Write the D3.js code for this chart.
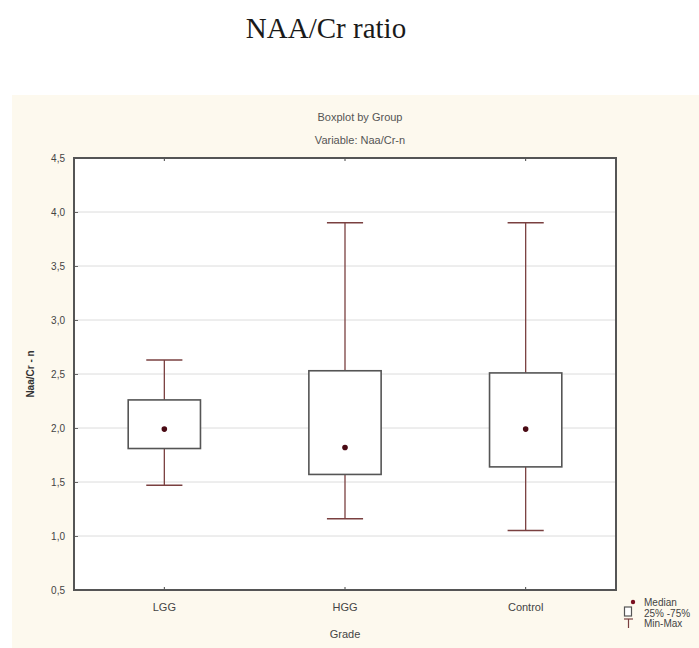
<!DOCTYPE html>
<html>
<head>
<meta charset="utf-8">
<script src="https://cdn.jsdelivr.net/npm/d3@7"></script>
<style>
  html, body { margin: 0; padding: 0; background: #ffffff; }
  svg { display: block; }
</style>
</head>
<body>
<script>
// ---- data ----
const groups = ["LGG", "HGG", "Control"];
const mins    = [1.47, 1.16, 1.05];
const q1s     = [1.81, 1.57, 1.64];
const medians = [1.99, 1.82, 1.99];
const q3s     = [2.26, 2.53, 2.51];
const maxs    = [2.63, 3.90, 3.90];
const yTicks  = [0.5, 1.0, 1.5, 2.0, 2.5, 3.0, 3.5, 4.0, 4.5];
const legendItems = ["Median", "25% -75%", "Min-Max"];

const W = 699, H = 648;
const svg = d3.select("body").append("svg").attr("width", W).attr("height", H);

// outer title
svg.append("text").attr("x", 326).attr("y", 38).attr("text-anchor", "middle")
  .style("font-family", "'Liberation Serif', 'Times New Roman', serif")
  .style("font-size", "29px").attr("fill", "#1a1a1a").text("NAA/Cr ratio");

// cream panel
svg.append("rect").attr("x", 12).attr("y", 95).attr("width", W - 12).attr("height", H - 95)
  .attr("fill", "#fdf9ee");

const plot = {left: 74, right: 616, top: 158, bottom: 590};
const x = d3.scaleBand().domain(groups).range([plot.left, plot.right]);
const y = d3.scaleLinear().domain([0.5, 4.5]).range([plot.bottom, plot.top]);

const narrow = "'Liberation Sans Narrow', 'Arial Narrow', 'Liberation Sans', sans-serif";

// subtitle
svg.append("text").attr("x", 360).attr("y", 121).attr("text-anchor", "middle")
  .style("font-family", narrow).style("font-size", "11px").attr("fill", "#555").text("Boxplot by Group");
svg.append("text").attr("x", 360).attr("y", 144).attr("text-anchor", "middle")
  .style("font-family", narrow).style("font-size", "11px").attr("fill", "#555").text("Variable: Naa/Cr-n");

// plot background
svg.append("rect").attr("x", plot.left).attr("y", plot.top)
  .attr("width", plot.right - plot.left).attr("height", plot.bottom - plot.top).attr("fill", "#ffffff");

// gridlines
svg.append("g").selectAll("line").data(yTicks.slice(1, -1)).join("line")
  .attr("x1", plot.left).attr("x2", plot.right)
  .attr("y1", d => y(d)).attr("y2", d => y(d))
  .attr("stroke", "#dcdcdc").attr("stroke-width", 1);

// y axis
const fmt = d => d.toFixed(1).replace(".", ",");
const yAxis = svg.append("g").attr("transform", `translate(${plot.left},0)`)
  .call(d3.axisLeft(y).tickValues(yTicks).tickFormat(fmt).tickSize(-4).tickPadding(9));
yAxis.select(".domain").remove();
yAxis.selectAll(".tick line").attr("stroke", "#666");
yAxis.selectAll("text").style("font-family", narrow).style("font-size", "10px").attr("fill", "#444");

// x axis (bottom) and top ticks
const xAxis = svg.append("g").attr("transform", `translate(0,${plot.bottom})`)
  .call(d3.axisBottom(x).tickSize(-3).tickPadding(13));
xAxis.select(".domain").remove();
xAxis.selectAll(".tick line").attr("stroke", "#444");
xAxis.selectAll("text").style("font-family", narrow).style("font-size", "11px").attr("fill", "#444");
const xTop = svg.append("g").attr("transform", `translate(0,${plot.top})`)
  .call(d3.axisTop(x).tickSize(-3).tickFormat(""));
xTop.select(".domain").remove();
xTop.selectAll(".tick line").attr("stroke", "#444");

// axis titles
svg.append("text").attr("x", (plot.left + plot.right) / 2).attr("y", 638).attr("text-anchor", "middle")
  .style("font-family", narrow).style("font-size", "11px").attr("fill", "#444").text("Grade");
svg.append("text").attr("transform", `translate(34,${(plot.top + plot.bottom) / 2}) rotate(-90)`)
  .attr("text-anchor", "middle").style("font-family", narrow).style("font-size", "10px")
  .style("font-weight", "bold").attr("fill", "#333").text("Naa/Cr - n");

// boxes
const bw = x.bandwidth() * 0.4, cw = x.bandwidth() * 0.2;
const whisk = "#7a4040";
const g = svg.append("g").selectAll("g").data(groups).join("g")
  .attr("transform", d => `translate(${x(d) + x.bandwidth() / 2},0)`);
g.append("line").attr("x1", 0).attr("x2", 0)
  .attr("y1", (d, i) => y(maxs[i])).attr("y2", (d, i) => y(q3s[i])).attr("stroke", whisk).attr("stroke-width", 1.3);
g.append("line").attr("x1", 0).attr("x2", 0)
  .attr("y1", (d, i) => y(q1s[i])).attr("y2", (d, i) => y(mins[i])).attr("stroke", whisk).attr("stroke-width", 1.3);
g.append("line").attr("x1", -cw / 2).attr("x2", cw / 2)
  .attr("y1", (d, i) => y(maxs[i])).attr("y2", (d, i) => y(maxs[i])).attr("stroke", whisk).attr("stroke-width", 1.5);
g.append("line").attr("x1", -cw / 2).attr("x2", cw / 2)
  .attr("y1", (d, i) => y(mins[i])).attr("y2", (d, i) => y(mins[i])).attr("stroke", whisk).attr("stroke-width", 1.5);
g.append("rect").attr("x", -bw / 2).attr("width", bw)
  .attr("y", (d, i) => y(q3s[i])).attr("height", (d, i) => y(q1s[i]) - y(q3s[i]))
  .attr("fill", "#ffffff").attr("stroke", "#555").attr("stroke-width", 1.6);
g.append("circle").attr("cx", 0).attr("cy", (d, i) => y(medians[i])).attr("r", 2.8).attr("fill", "#4a0a14");

// plot border
svg.append("rect").attr("x", plot.left).attr("y", plot.top)
  .attr("width", plot.right - plot.left).attr("height", plot.bottom - plot.top)
  .attr("fill", "none").attr("stroke", "#555").attr("stroke-width", 2);

// legend
const lg = svg.append("g").attr("transform", "translate(624,0)");
lg.append("circle").attr("cx", 9).attr("cy", 602).attr("r", 2.2).attr("fill", "#7a1020");
lg.append("rect").attr("x", 0.5).attr("y", 607).attr("width", 7).attr("height", 9)
  .attr("fill", "#fff").attr("stroke", "#555").attr("stroke-width", 1.2);
lg.append("line").attr("x1", 0).attr("x2", 9).attr("y1", 619).attr("y2", 619).attr("stroke", whisk).attr("stroke-width", 1.2);
lg.append("line").attr("x1", 4.5).attr("x2", 4.5).attr("y1", 619).attr("y2", 628).attr("stroke", whisk).attr("stroke-width", 1.2);
lg.selectAll("text.leg").data(legendItems).join("text").attr("class", "leg")
  .attr("x", 20).attr("y", (d, i) => 606 + i * 10.5)
  .style("font-family", narrow).style("font-size", "10px").attr("fill", "#444").text(d => d);
</script>
</body>
</html>
